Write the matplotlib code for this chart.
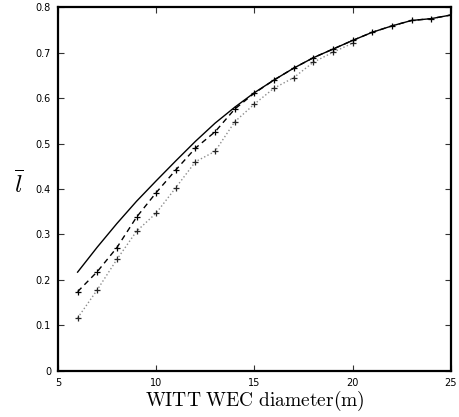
import matplotlib

matplotlib.use("Agg")
import matplotlib.pyplot as plt

# WEC diameter (m) and mean l values
d_solid = [6, 7, 8, 9, 10, 11, 12, 13, 14, 15, 16, 17, 18, 19, 20, 21, 22, 23, 24, 25]
l_solid = [0.217, 0.272, 0.324, 0.373, 0.418, 0.462, 0.505, 0.545, 0.580, 0.612,
           0.640, 0.666, 0.689, 0.708, 0.727, 0.745, 0.759, 0.771, 0.775, 0.783]

d_dashed = [6, 7, 8, 9, 10, 11, 12, 13, 14, 15, 16, 17, 18, 19, 20, 21, 22, 23, 24, 25]
l_dashed = [0.174, 0.218, 0.271, 0.338, 0.392, 0.442, 0.490, 0.526, 0.576, 0.611,
            0.640, 0.666, 0.689, 0.708, 0.727, 0.745, 0.759, 0.771, 0.775, 0.783]

d_dotted = [6, 7, 8, 9, 10, 11, 12, 13, 14, 15, 16, 17, 18, 19, 20]
l_dotted = [0.116, 0.178, 0.245, 0.307, 0.347, 0.403, 0.460, 0.483, 0.548, 0.587,
            0.622, 0.645, 0.679, 0.701, 0.721]

plt.rcParams["mathtext.fontset"] = "cm"

fig = plt.figure(figsize=(4.6, 4.17), dpi=100)
ax = fig.add_axes([0.126, 0.111, 0.854, 0.8715])

ax.plot(d_dotted, l_dotted, ls=":", color="0.55", lw=1.0, marker="+", ms=5,
        mec="0.15", mew=0.9)
ax.plot(d_dashed, l_dashed, ls=(0, (4, 3)), color="k", lw=1.0, marker="+", ms=5,
        mec="k", mew=0.9)
ax.plot(d_solid, l_solid, ls="-", color="k", lw=1.0)

ax.set_xlim(5, 25)
ax.set_ylim(0, 0.8)
ax.set_xticks([5, 10, 15, 20, 25])
ax.set_yticks([0, 0.1, 0.2, 0.3, 0.4, 0.5, 0.6, 0.7, 0.8])
ax.set_yticklabels(["0", "0.1", "0.2", "0.3", "0.4", "0.5", "0.6", "0.7", "0.8"])
ax.tick_params(direction="in", length=4, width=0.8, labelsize=7, top=True, right=True,
               pad=5, color="0.2")
for sp in ax.spines.values():
    sp.set_linewidth(1.6)

ax.set_xlabel(r"$\mathrm{WITT\ WEC\ diameter(m)}$", fontsize=14, labelpad=1)
fig.text(0.04, 0.56, r"$\overline{l}$", fontsize=18, ha="center", va="center")

fig.savefig("out.png", dpi=100)
